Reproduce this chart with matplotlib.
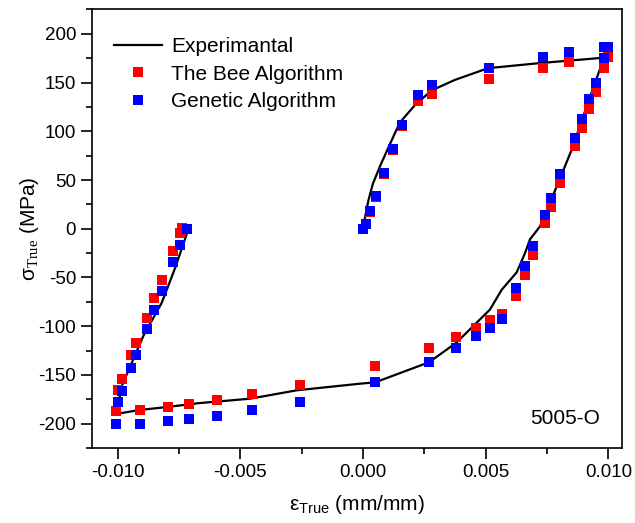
import matplotlib
matplotlib.use('Agg')
import matplotlib.pyplot as plt
from matplotlib.ticker import MultipleLocator, FormatStrFormatter

plt.rcParams['font.family'] = 'Liberation Sans'
plt.rcParams['axes.unicode_minus'] = False
plt.rcParams['mathtext.fontset'] = 'custom'
plt.rcParams['mathtext.rm'] = 'Liberation Serif'
plt.rcParams['mathtext.sf'] = 'Liberation Sans'

# experimental hysteresis loop
exp_strain = [0, 0.0001, 0.00022, 0.0004, 0.00069, 0.0011, 0.0015, 0.00212, 0.0028,
              0.00375, 0.0051, 0.00721, 0.0098, 0.0096, 0.0093, 0.0089, 0.0085, 0.00789,
              0.00721, 0.0068, 0.0066, 0.00626, 0.00565, 0.00517, 0.0038, 0.00269, 0.0005,
              -0.00012, -0.0027, -0.0046, -0.0067, -0.008, -0.0091, -0.01005, -0.00983,
              -0.00936, -0.00895, -0.0082, -0.00765, -0.00708]
exp_stress = [0, 14, 29, 46, 64, 87, 109, 127, 142,
              152.8, 164.8, 170, 175.5, 160, 139, 110, 81, 43.4,
              2.4, -11, -25, -44.8, -62.6, -83, -117, -137, -157.6,
              -159, -165.8, -174.4, -179, -183, -186, -190, -161.7,
              -134, -110, -76, -40, 2]

# Bee algorithm
bee_strain = [0.0, 0.00012, 0.00029, 0.00052, 0.00087, 0.00124, 0.00159, 0.00224, 0.00281,
              0.00512, 0.00732, 0.00839, 0.0100, 0.00982,
              0.00948, 0.00921, 0.00891, 0.00862, 0.00804, 0.00766, 0.00741, 0.00691,
              0.00659, 0.00625, 0.00567, 0.00517, 0.00462, 0.0038, 0.00269, 0.0005,
              -0.00258, -0.00451, -0.00596, -0.00709, -0.00796, -0.0091, -0.01006,
              -0.00999, -0.00982, -0.00944, -0.00923, -0.0088, -0.0085, -0.0082,
              -0.00773, -0.00745, -0.00736]
bee_stress = [0, 5, 17, 33, 56, 81, 105, 130.6, 138,
              154, 165.4, 170.6, 176, 165,
              140.5, 123, 103, 84.4, 46.5, 22.6, 5.4, -26.7,
              -47.5, -69.4, -87.5, -94, -101.5, -110.8, -122, -140.5,
              -160, -169.6, -175.7, -179.8, -182.6, -186, -187.4,
              -165, -153.8, -130, -117.6, -91.6, -71.5, -53,
              -23, -4.8, 1]

# Genetic algorithm
ga_strain = [0.0, 0.00012, 0.00029, 0.00052, 0.00087, 0.00124, 0.00159, 0.00224, 0.00281,
             0.00512, 0.00732, 0.00839, 0.00982, 0.0100, 0.00982,
             0.00948, 0.00921, 0.00891, 0.00862, 0.00804, 0.00766, 0.00741, 0.00691,
             0.00659, 0.00625, 0.00567, 0.00517, 0.00462, 0.0038, 0.00269, 0.0005,
             -0.00258, -0.00451, -0.00596, -0.00709, -0.00796, -0.0091, -0.01006,
             -0.00999, -0.00982, -0.00944, -0.00923, -0.0088, -0.0085, -0.0082,
             -0.00773, -0.00745, -0.00718]
ga_stress = [0, 5, 17.7, 34, 57, 82, 106, 137, 147,
             165, 176.7, 181.5, 187, 186.3, 175,
             150, 133, 112.5, 93.6, 55.7, 31.5, 14.4, -18,
             -38.6, -61, -92.6, -101.9, -110.4, -122, -136.4, -157.6,
             -178, -186.3, -191.8, -195, -197.3, -200, -200,
             -178, -166.8, -142.9, -129.6, -103, -83, -64.3,
             -34.5, -16.8, 0]

fig = plt.figure(figsize=(6.35, 5.23), dpi=100)
ax = fig.add_axes([0.1449, 0.1434, 0.8346, 0.8394])

ax.plot(exp_strain, exp_stress, color='black', linewidth=1.6, label='Experimantal', zorder=2)
ax.plot(bee_strain, bee_stress, 's', color='#ff0000', markersize=7.5, markeredgewidth=0,
        label='The Bee Algorithm', zorder=3)
ax.plot(ga_strain, ga_stress, 's', color='#0000ff', markersize=7.5, markeredgewidth=0,
        label='Genetic Algorithm', zorder=4)

ax.set_xlim(-0.01104, 0.01055)
ax.set_ylim(-225, 225.5)

ax.xaxis.set_major_locator(MultipleLocator(0.005))
ax.xaxis.set_minor_locator(MultipleLocator(0.0025))
ax.xaxis.set_major_formatter(FormatStrFormatter('%.3f'))
ax.yaxis.set_major_locator(MultipleLocator(50))
ax.yaxis.set_minor_locator(MultipleLocator(25))

ax.tick_params(which='major', direction='out', length=8, width=1.2, labelsize=13.5,
               top=False, right=False)
ax.tick_params(which='minor', direction='out', length=4.5, width=1.2, top=False, right=False)
for s in ax.spines.values():
    s.set_linewidth(1.2)

ax.set_xlabel('ε$_{\\mathsf{True}}$ (mm/mm)', fontsize=15, labelpad=9)
ax.set_ylabel('σ$_{\\mathrm{True}}$ (MPa)', fontsize=15, labelpad=-2)

ax.text(0.892, 0.068, '5005-O', transform=ax.transAxes, fontsize=15,
        ha='center', va='center')

ax.legend(loc='upper left', bbox_to_anchor=(0.022, 0.96), frameon=False, fontsize=15,
          handlelength=2.3, handletextpad=0.45, labelspacing=0.42, borderaxespad=0.2,
          borderpad=0.3)

fig.savefig('out.png', dpi=100)
